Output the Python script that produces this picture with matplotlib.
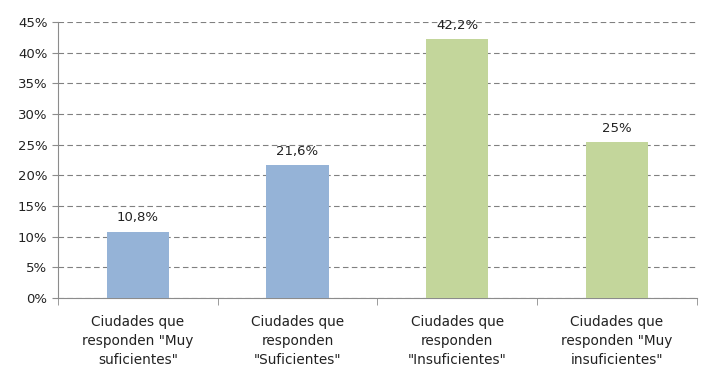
import matplotlib.pyplot as plt
import numpy as np
from matplotlib.ticker import FuncFormatter, MultipleLocator

categories = [
    'Ciudades que\nresponden "Muy\nsuficientes"',
    'Ciudades que\nresponden\n"Suficientes"',
    'Ciudades que\nresponden\n"Insuficientes"',
    'Ciudades que\nresponden "Muy\ninsuficientes"',
]
values = [10.8, 21.6, 42.2, 25.4]
value_labels = ["10,8%", "21,6%", "42,2%", "25%"]
colors = ["#95B3D7", "#95B3D7", "#C3D69B", "#C3D69B"]

plt.rcParams["font.family"] = ["DejaVu Sans"]

fig = plt.figure(figsize=(7.06, 3.85), dpi=100)
ax = fig.add_axes([0.082, 0.226, 0.905, 0.717])

x = np.arange(len(categories))
ax.bar(x, values, width=0.39, color=colors, zorder=3)

for xi, v, lab in zip(x, values, value_labels):
    ax.text(xi, v + 1.2, lab, ha="center", va="bottom", fontsize=9.5, color="#222222")

ax.set_xlim(-0.5, len(categories) - 0.5)
ax.set_ylim(0, 45)
ax.yaxis.set_major_locator(MultipleLocator(5))
ax.yaxis.set_major_formatter(FuncFormatter(lambda v, _: f"{v:.0f}%"))
ax.grid(axis="y", linestyle=(0, (5, 3)), color="#808080", linewidth=0.8, zorder=0)

ax.set_xticks(x)
ax.set_xticklabels(categories, fontsize=9.8, color="#222222", linespacing=1.45)
ax.tick_params(axis="x", which="major", length=0, pad=12)
ax.set_xticks(np.arange(len(categories) + 1) - 0.5, minor=True)
ax.tick_params(axis="x", which="minor", length=5, color="#8c8c8c")
ax.tick_params(axis="y", length=4, color="#8c8c8c", labelsize=9.5, labelcolor="#222222")

for s in ["top", "right"]:
    ax.spines[s].set_visible(False)
for s in ["left", "bottom"]:
    ax.spines[s].set_color("#8c8c8c")

fig.savefig("out.png", dpi=100)
